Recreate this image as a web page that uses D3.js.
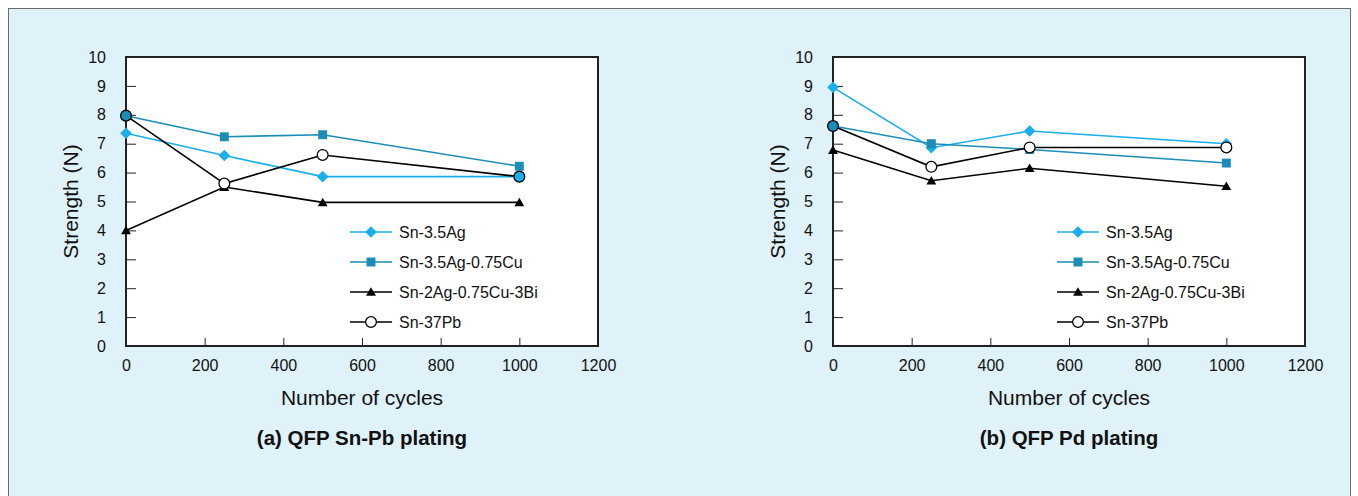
<!DOCTYPE html>
<html><head><meta charset="utf-8">
<script src="https://cdn.jsdelivr.net/npm/d3@7"></script>
<style>
html,body{margin:0;padding:0;background:#fff;}
svg{display:block;font-family:"Liberation Sans",Arial,sans-serif;}
</style></head>
<body>
<svg id="c" width="1358" height="496"></svg>
<script>
const cycles = [0, 250, 500, 1000];
const seriesNames = ["Sn-3.5Ag", "Sn-3.5Ag-0.75Cu", "Sn-2Ag-0.75Cu-3Bi", "Sn-37Pb"];
const markerTypes = ["diamond", "square", "triangle", "circle"];
const seriesColors = ["#1aaeea", "#1b8db6", "#000000", "#000000"];
// Panel (a) QFP Sn-Pb plating
const snPb_Ag      = [7.36, 6.59, 5.86, 5.86];
const snPb_AgCu    = [7.97, 7.24, 7.31, 6.22];
const snPb_AgCuBi  = [4.0, 5.5, 4.97, 4.97];
const snPb_SnPb    = [7.97, 5.62, 6.61, 5.86];
// Panel (b) QFP Pd plating
const pd_Ag     = [8.95, 6.86, 7.44, 7.0];
const pd_AgCu   = [7.61, 7.0, 6.8, 6.33];
const pd_AgCuBi = [6.78, 5.72, 6.15, 5.53];
const pd_SnPb   = [7.61, 6.2, 6.87, 6.87];
const xTicks = [0, 200, 400, 600, 800, 1000, 1200];
const yTicks = [0, 1, 2, 3, 4, 5, 6, 7, 8, 9, 10];
const xTitle = "Number of cycles";
const yTitle = "Strength (N)";
const panelTitles = ["(a) QFP Sn-Pb plating", "(b) QFP Pd plating"];

const panels = [
  {left: 126, title: panelTitles[0], data: [snPb_Ag, snPb_AgCu, snPb_AgCuBi, snPb_SnPb]},
  {left: 833, title: panelTitles[1], data: [pd_Ag, pd_AgCu, pd_AgCuBi, pd_SnPb]}
];

const svg = d3.select("#c");
svg.append("rect").attr("x", 0).attr("y", 0).attr("width", 1358).attr("height", 496).attr("fill", "#ffffff");
svg.append("rect").attr("x", 8.5).attr("y", 8.5).attr("width", 1342).attr("height", 495)
  .attr("fill", "#dff1f9").attr("stroke", "#6b6b6b").attr("stroke-width", 1);

const W = 472, H = 289, plotTop = 57;

function markerPath(type) {
  if (type === "diamond") return "M0,-5.8L5.8,0L0,5.8L-5.8,0Z";
  if (type === "square") return d3.symbol(d3.symbolSquare, 80)();
  if (type === "triangle") return d3.symbol(d3.symbolTriangle, 42)();
  return null;
}

panels.forEach(p => {
  const g = svg.append("g").attr("transform", `translate(${p.left},${plotTop})`);
  const x = d3.scaleLinear().domain([0, 1200]).range([0, W]);
  const y = d3.scaleLinear().domain([0, 10]).range([H, 0]);

  g.append("rect").attr("width", W).attr("height", H).attr("fill", "#fff");

  const ya = g.append("g").call(d3.axisLeft(y).tickValues(yTicks).tickFormat(d3.format("d"))
    .tickSize(-10).tickPadding(20).tickSizeOuter(0));
  ya.select(".domain").remove();
  ya.selectAll("line").attr("stroke", "#222");
  ya.selectAll("text").attr("font-size", 16).attr("fill", "#111").attr("font-family", "Liberation Sans, Arial, sans-serif");
  const xa = g.append("g").attr("transform", `translate(0,${H})`)
    .call(d3.axisBottom(x).tickValues(xTicks).tickFormat(d3.format("d"))
      .tickSize(-8).tickPadding(14).tickSizeOuter(0));
  xa.select(".domain").remove();
  xa.selectAll("line").attr("stroke", "#222");
  xa.selectAll("text").attr("font-size", 16).attr("fill", "#111").attr("font-family", "Liberation Sans, Arial, sans-serif");

  g.append("rect").attr("width", W).attr("height", H).attr("fill", "none").attr("stroke", "#222").attr("stroke-width", 2);

  const line = d3.line().x((d, i) => x(cycles[i])).y(d => y(d));
  p.data.forEach((vals, si) => {
    g.append("path").datum(vals).attr("d", line).attr("fill", "none")
      .attr("stroke", seriesColors[si]).attr("stroke-width", 1.6);
  });
  p.data.forEach((vals, si) => {
    vals.forEach((v, i) => {
      const cx = x(cycles[i]), cy = y(v);
      if (markerTypes[si] === "circle") {
        let fill = "#fff";
        p.data.forEach((o, oi) => {
          if (oi !== si && Math.abs(o[i] - v) < 0.06) fill = seriesColors[oi];
        });
        g.append("circle").attr("cx", cx).attr("cy", cy).attr("r", 5.4)
          .attr("fill", fill).attr("stroke", "#000").attr("stroke-width", 1.3);
      } else {
        g.append("path").attr("d", markerPath(markerTypes[si]))
          .attr("transform", `translate(${cx},${cy + (markerTypes[si] === "triangle" ? 1 : 0)})`)
          .attr("fill", seriesColors[si]);
      }
    });
  });

  const lg = g.append("g").attr("transform", `translate(224,0)`);
  seriesNames.forEach((name, si) => {
    const ly = 175 + si * 30;
    lg.append("line").attr("x1", 0).attr("x2", 42).attr("y1", ly).attr("y2", ly)
      .attr("stroke", seriesColors[si]).attr("stroke-width", 1.6);
    if (markerTypes[si] === "circle") {
      lg.append("circle").attr("cx", 21).attr("cy", ly).attr("r", 5.4).attr("fill", "#fff")
        .attr("stroke", "#000").attr("stroke-width", 1.3);
    } else {
      lg.append("path").attr("d", markerPath(markerTypes[si]))
        .attr("transform", `translate(21,${ly + (markerTypes[si] === "triangle" ? 1 : 0)})`)
        .attr("fill", seriesColors[si]);
    }
    lg.append("text").attr("x", 49).attr("y", ly + 5.8).attr("font-size", 16).attr("fill", "#111").text(name);
  });

  g.append("text").attr("x", W / 2).attr("y", 348).attr("text-anchor", "middle")
    .attr("font-size", 21).attr("fill", "#111").text(xTitle);
  g.append("text").attr("transform", `translate(-48,${H / 2}) rotate(-90)`).attr("text-anchor", "middle")
    .attr("font-size", 21).attr("fill", "#111").text(yTitle);
  g.append("text").attr("x", W / 2).attr("y", 388).attr("text-anchor", "middle")
    .attr("font-size", 20.5).attr("font-weight", "bold").attr("fill", "#111").text(p.title);
});
</script>
</body></html>
